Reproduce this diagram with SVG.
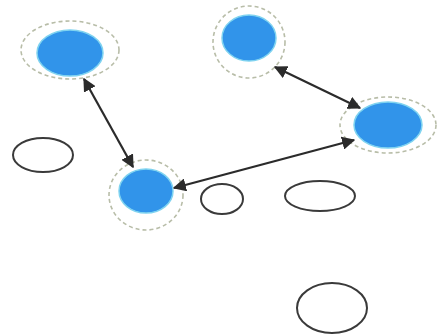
<svg xmlns="http://www.w3.org/2000/svg" width="438" height="334" viewBox="0 0 438 334">
<style>
.ring{fill:none;stroke:#b8bda8;stroke-width:1.6;stroke-dasharray:4 3}
.blue{fill:#3194ea;stroke:#7fd3f0;stroke-width:1.5}
.empty{fill:none;stroke:#3a3a3a;stroke-width:2}
.edge{stroke:#2b2b2b;stroke-width:2.2;fill:none;marker-start:url(#ah);marker-end:url(#ah)}
</style>
<defs>
<marker id="ah" viewBox="0 0 10 10" refX="9" refY="5" markerWidth="6" markerHeight="6" orient="auto-start-reverse" markerUnits="strokeWidth">
<path d="M0,0 L10,5 L0,10 z" fill="#2b2b2b"/>
</marker>
</defs>
<rect width="438" height="334" fill="#ffffff"/>
<g id="nodeA"><ellipse class="ring" cx="70" cy="50" rx="49" ry="29"/><ellipse class="blue" cx="70" cy="53" rx="33" ry="23"/></g>
<g id="nodeB"><ellipse class="ring" cx="249" cy="42" rx="36" ry="36"/><ellipse class="blue" cx="249" cy="38" rx="27" ry="23"/></g>
<g id="nodeC"><ellipse class="ring" cx="388" cy="125" rx="48" ry="28"/><ellipse class="blue" cx="388" cy="125" rx="34" ry="23"/></g>
<g id="nodeD"><ellipse class="ring" cx="146" cy="195" rx="37" ry="35"/><ellipse class="blue" cx="146" cy="191" rx="27" ry="22"/></g>
<g id="nodeE1"><ellipse class="empty" cx="43" cy="155" rx="30" ry="17"/></g>
<g id="nodeE2"><ellipse class="empty" cx="222" cy="199" rx="21" ry="15"/></g>
<g id="nodeE3"><ellipse class="empty" cx="320" cy="196" rx="35" ry="15"/></g>
<g id="nodeE4"><ellipse class="empty" cx="332" cy="308" rx="35" ry="25"/></g>
<g id="connectors">
<line class="edge" x1="84" y1="79" x2="133" y2="167"/>
<line class="edge" x1="275" y1="67" x2="360" y2="108"/>
<line class="edge" x1="174" y1="188" x2="354" y2="140"/>
</g>
</svg>
